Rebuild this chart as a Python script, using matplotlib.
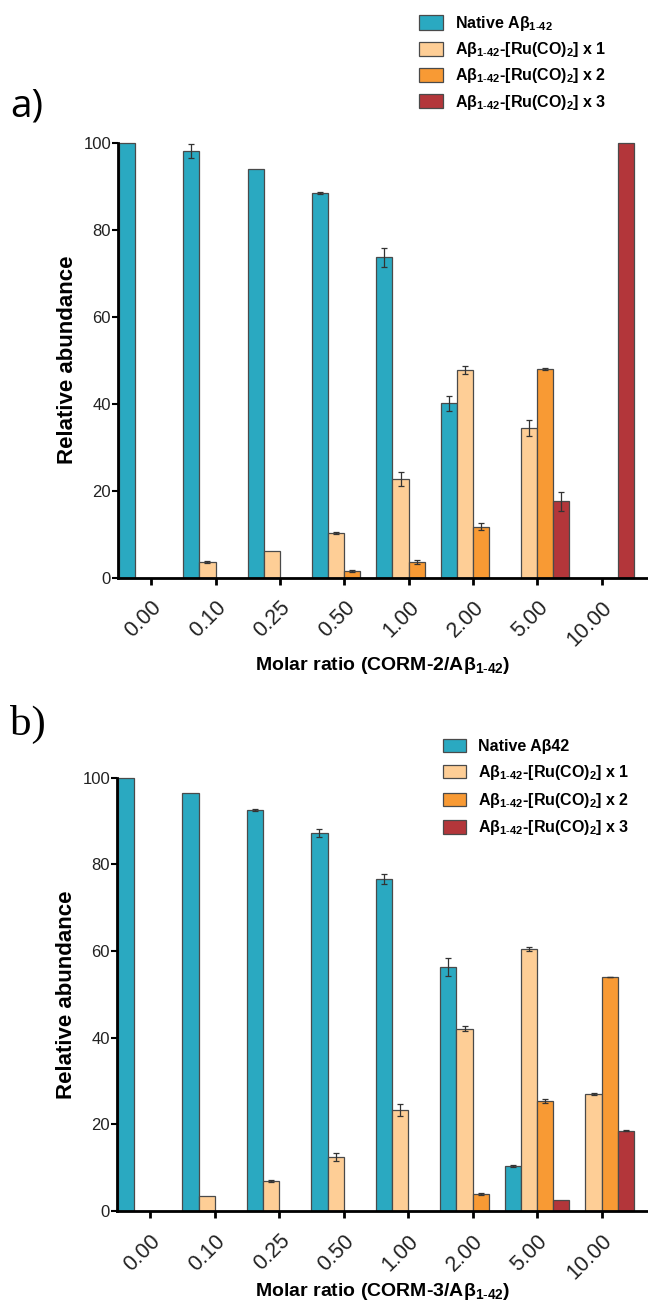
import numpy as np
import matplotlib
matplotlib.use("Agg")
import matplotlib.pyplot as plt
from matplotlib.patches import Patch

plt.rcParams['font.family'] = ['Liberation Sans', 'DejaVu Sans']
plt.rcParams['mathtext.fontset'] = 'custom'
plt.rcParams['mathtext.rm'] = 'Liberation Sans'
plt.rcParams['mathtext.bf'] = 'Liberation Sans:bold'
plt.rcParams['mathtext.default'] = 'bf'

ratios = ['0.00', '0.10', '0.25', '0.50', '1.00', '2.00', '5.00', '10.00']

# panel a) CORM-2
native_a = [100, 98.1, 94.0, 88.5, 73.6, 40.1, 0, 0]
native_a_err = [0, 1.6, 0, 0.2, 2.1, 1.7, 0, 0]
ru1_a = [0, 3.5, 6.0, 10.2, 22.7, 47.7, 34.4, 0]
ru1_a_err = [0, 0.2, 0, 0.2, 1.6, 1.0, 1.8, 0]
ru2_a = [0, 0, 0, 1.5, 3.6, 11.7, 47.9, 0]
ru2_a_err = [0, 0, 0, 0.2, 0.5, 0.8, 0.2, 0]
ru3_a = [0, 0, 0, 0, 0, 0, 17.5, 100]
ru3_a_err = [0, 0, 0, 0, 0, 0, 2.1, 0]

# panel b) CORM-3
native_b = [100, 96.4, 92.5, 87.2, 76.6, 56.4, 10.4, 0]
native_b_err = [0, 0, 0.3, 1.0, 1.2, 2.1, 0.2, 0]
ru1_b = [0, 3.4, 7.0, 12.5, 23.3, 42.1, 60.5, 27.0]
ru1_b_err = [0, 0, 0.2, 1.0, 1.3, 0.5, 0.5, 0.2]
ru2_b = [0, 0, 0, 0, 0, 4.0, 25.4, 54.0]
ru2_b_err = [0, 0, 0, 0, 0, 0.2, 0.5, 0.1]
ru3_b = [0, 0, 0, 0, 0, 0, 2.5, 18.5]
ru3_b_err = [0, 0, 0, 0, 0, 0, 0, 0.1]

colors = ['#2aa9c1', '#fece96', '#f89a34', '#b3363a']
sub = r'$_{1\text{-}42}$'
ru_labels = ['Aβ' + sub + '-[Ru(CO)$_{2}$] x %d' % k for k in (1, 2, 3)]
labels_a = ['Native Aβ' + sub] + ru_labels
labels_b = ['Native Aβ42'] + ru_labels

fig = plt.figure(figsize=(6.48, 13.03), dpi=100)
H = 1303.0
ax_a = fig.add_axes([118 / 648, (H - 577.5) / H, 530 / 648, 434.8 / H])
ax_b = fig.add_axes([117 / 648, (H - 1211) / H, 531 / 648, 433.3 / H])


def draw(ax, series, errs, xlab):
    x = np.arange(len(ratios))
    w = 0.25
    for i, (vals, err) in enumerate(zip(series, errs)):
        pos = x + (i - 1.5) * w
        vals = np.array(vals, float)
        err = np.array(err, float)
        ax.bar(pos, vals, width=w, color=colors[i], edgecolor='#4a4a4a',
               linewidth=0.9, clip_on=False, zorder=2)
        m = err > 0
        ax.errorbar(pos[m], vals[m], yerr=err[m], fmt='none', ecolor='#333333',
                    elinewidth=0.9, capsize=2.5, capthick=0.9, zorder=3, clip_on=False)
    ax.set_xlim(-0.515, 7.72)
    ax.set_ylim(0, 100)
    ax.set_yticks([0, 20, 40, 60, 80, 100])
    ax.set_xticks(x)
    ax.set_xticklabels(ratios, rotation=45, ha='right', va='top',
                       rotation_mode='anchor', fontsize=15.5, color='#222222')
    for s in ['top', 'right']:
        ax.spines[s].set_visible(False)
    for s in ['left', 'bottom']:
        ax.spines[s].set_linewidth(2.0)
        ax.spines[s].set_zorder(4)
    ax.tick_params(axis='y', direction='out', length=4, width=1.5, labelsize=12,
                   labelcolor='#222222', pad=1)
    ax.tick_params(axis='x', direction='out', length=5, width=2, pad=9)
    ax.set_ylabel('Relative abundance', fontsize=16, fontweight='bold', va='center')
    ax.yaxis.set_label_coords(-0.096, 0.5)
    ax.set_xlabel(xlab, fontsize=14, fontweight='bold')


draw(ax_a, [native_a, ru1_a, ru2_a, ru3_a],
     [native_a_err, ru1_a_err, ru2_a_err, ru3_a_err],
     'Molar ratio (CORM-2/Aβ' + sub + ')')
draw(ax_b, [native_b, ru1_b, ru2_b, ru3_b],
     [native_b_err, ru1_b_err, ru2_b_err, ru3_b_err],
     'Molar ratio (CORM-3/Aβ' + sub + ')')
ax_a.xaxis.set_label_coords(0.5, -(665 - 577.5) / 434.8)
ax_a.xaxis.label.set_va('center')
ax_b.xaxis.set_label_coords(0.5, -(1292 - 1211) / 433.3)
ax_b.xaxis.label.set_va('center')

handles = [Patch(facecolor=c, edgecolor='#4a4a4a', linewidth=0.9) for c in colors]
fig.legend(handles, labels_a, loc='upper left', bbox_to_anchor=(419 / 648, 1 - 14 / H),
           frameon=False, borderpad=0, borderaxespad=0, handlelength=1.5,
           handleheight=1.0, handletextpad=0.75, labelspacing=0.45,
           prop={'size': 11.5, 'weight': 'bold'})
fig.legend(handles, labels_b, loc='upper left', bbox_to_anchor=(443 / 648, 1 - 739 / H),
           frameon=False, borderpad=0, borderaxespad=0, handlelength=1.45,
           handleheight=0.9, handletextpad=0.75, labelspacing=0.55,
           prop={'size': 11.5, 'weight': 'bold'})

fig.text(10 / 648, 1 - 106 / H, 'a)', fontsize=28, family='Open Sans', va='center')
fig.text(10 / 648, 1 - 724 / H, 'b)', fontsize=31, family='Liberation Serif', va='center')

fig.savefig('out.png', dpi=100)
